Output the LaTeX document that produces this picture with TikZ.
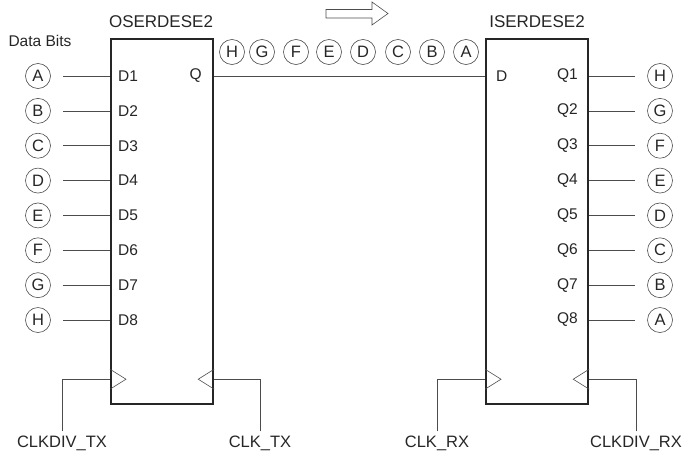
\documentclass[tikz,border=0pt]{standalone}
\usepackage{fontspec}
\setmainfont{Liberation Sans}
\usepackage{tikz}
\usetikzlibrary{arrows.meta,positioning,calc}

\begin{document}
\begin{tikzpicture}[
  x=1pt, y=-1pt,
  every node/.style={font=\fontsize{15.5}{17}\selectfont, text=black!85},
  block/.style={draw=black!85, line width=2.2pt, minimum width=102pt,
                minimum height=365pt, anchor=north west, inner sep=0pt},
  title/.style={font=\fontsize{17}{19}\selectfont},
  bit/.style={circle, draw=black!70, line width=0.6pt, minimum size=25pt,
              inner sep=0pt, font=\fontsize{16.5}{18}\selectfont},
  pin/.style={inner sep=0pt},
  clklabel/.style={inner sep=1pt, font=\fontsize{16.5}{18}\selectfont},
  wire/.style={draw=black!70, line width=0.6pt},
  clk/.style={draw=black!70, line width=0.6pt}
]
\useasboundingbox (0,0) rectangle (690,458);

\node[block] (oser) at (110,38) {};
\node[block] (iser) at (485,38) {};
\node[title] (otitle) at (161,22) {OSERDESE2};
\node[title] (ititle) at (537,22) {ISERDESE2};
\node (databits) at (40,41) {Data Bits};

% parallel inputs and outputs
\foreach \l [count=\i] in {A,B,C,D,E,F,G,H} {
  \node[bit] (in\i) at (38,76+34.86*\i-34.86) {\l};
  \node[pin, anchor=west] (d\i) at (118,76+34.86*\i-34.86) {D\i};
  \draw[wire] ([xshift=12pt]in\i.east) -- (in\i -| oser.west);
}
\foreach \l [count=\i] in {H,G,F,E,D,C,B,A} {
  \node[bit] (out\i) at (660,76+34.86*\i-34.86) {\l};
  \node[pin, anchor=east] (q\i) at (578,76+34.86*\i-34.86) {Q\i};
  \draw[wire] (out\i -| iser.east) -- ([xshift=-12pt]out\i.west);
}

% serial link
\node[pin, anchor=east] (q) at (202,76) {Q};
\node[pin, anchor=west] (d) at (496,76) {D};
\draw[wire] (q -| oser.east) -- (d -| iser.west);
\foreach \x/\l [count=\i] in {232/H,262/G,296/F,329/E,363/D,398/C,432/B,466/A}
  \node[bit] (s\i) at (\x,52) {\l};
\draw[wire] (326,9.5) -- (372,9.5) -- (372,2) -- (388,13.5) -- (372,25)
  -- (372,18) -- (326,18) -- cycle;

% clocks
\coordinate (otxdiv) at ($(oser.south west)+(0,-26)$);
\coordinate (otx) at ($(oser.south east)+(0,-26)$);
\coordinate (irx) at ($(iser.south west)+(0,-26)$);
\coordinate (irxdiv) at ($(iser.south east)+(0,-26)$);
\node[clklabel] (clkdivtx) at (62,443) {CLKDIV\_TX};
\node[clklabel] (clktx) at (260,443) {CLK\_TX};
\node[clklabel] (clkrx) at (437,443) {CLK\_RX};
\node[clklabel] (clkdivrx) at (636,443) {CLKDIV\_RX};
\draw[wire] ([yshift=3pt]clkdivtx.north) |- (otxdiv);
\draw[wire] ([yshift=3pt]clktx.north) |- (otx);
\draw[wire] ([yshift=3pt]clkrx.north) |- (irx);
\draw[wire] ([yshift=3pt]clkdivrx.north) |- (irxdiv);
\draw[clk] ($(otxdiv)+(0,-10)$) -- ($(otxdiv)+(16,0)$) -- ($(otxdiv)+(0,10)$);
\draw[clk] ($(otx)+(0,-10)$) -- ($(otx)+(-16,0)$) -- ($(otx)+(0,10)$);
\draw[clk] ($(irx)+(0,-10)$) -- ($(irx)+(16,0)$) -- ($(irx)+(0,10)$);
\draw[clk] ($(irxdiv)+(0,-10)$) -- ($(irxdiv)+(-16,0)$) -- ($(irxdiv)+(0,10)$);
\end{tikzpicture}
\end{document}
